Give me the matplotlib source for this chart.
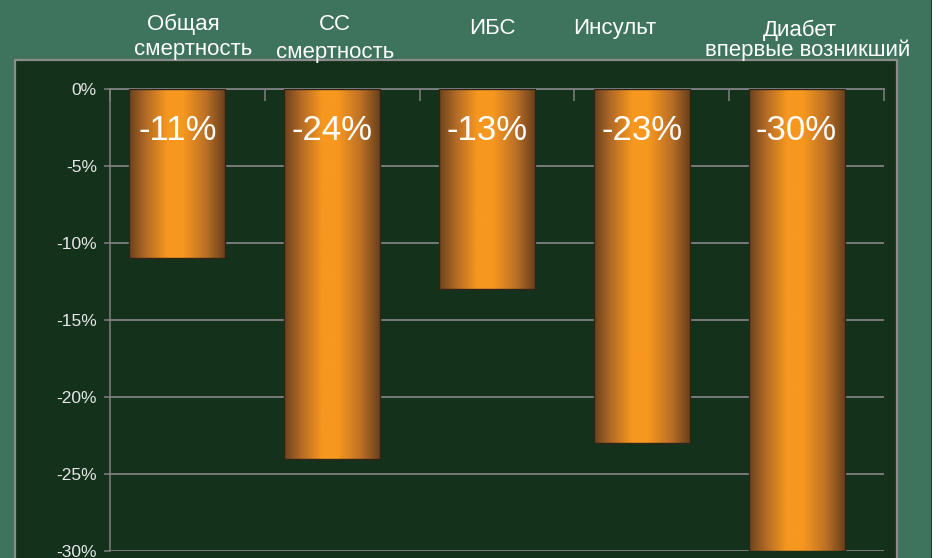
import numpy as np
import matplotlib.pyplot as plt
from matplotlib.patches import Rectangle
from matplotlib.colors import LinearSegmentedColormap

categories = ['Общая\nсмертность', 'СС\nсмертность', 'ИБС', 'Инсульт', 'Диабет\nвпервые возникший']
values = [-11, -24, -13, -23, -30]
bar_labels = ['-11%', '-24%', '-13%', '-23%', '-30%']
yticks = [0, -5, -10, -15, -20, -25, -30]
ytick_labels = ['0%', '-5%', '-10%', '-15%', '-20%', '-25%', '-30%']

# header line placement in pixels: (centre x, baseline y) for each line
label_pos = [[(183, 30), (193, 55)],
             [(335, 30), (335, 58)],
             [(492, 34)],
             [(615, 34)],
             [(800, 36), (808, 56)]]

plt.rcParams['font.family'] = ['Liberation Sans', 'DejaVu Sans']

W, H = 943, 558
BG = '#3e735d'
PANEL = '#14321b'
GRID = '#808080'

fig = plt.figure(figsize=(W / 100, H / 100), dpi=100, facecolor=BG)

# dark panel behind the chart
fig.patches.append(Rectangle((15 / W, -0.05), (897 - 15) / W, (H - 60) / H + 0.05,
                             transform=fig.transFigure, facecolor=PANEL,
                             edgecolor='#8c8c8c', linewidth=1.6, zorder=-2))
# white strip on the right edge
fig.patches.append(Rectangle((931 / W, 0), 1, 1, transform=fig.transFigure,
                             facecolor='white', edgecolor='none', zorder=-2))
fig.patches.append(Rectangle((931 / W, 0), 1.2 / W, 1, transform=fig.transFigure,
                             facecolor='#2a3a30', edgecolor='none', zorder=-2))

ax = fig.add_axes([110 / W, 1 - 551 / H, (884 - 110) / W, (551 - 89) / H])
ax.set_facecolor('none')
ax.set_zorder(2)

# bars sit a little left of the category centre, as in the original
x = np.arange(len(values))
bx = x - 0.065
bars = ax.bar(bx, values, width=0.62, color='none', edgecolor='#2e2418',
              linewidth=1.0, zorder=4)

cmap = LinearSegmentedColormap.from_list('bar', [
    (0.0, '#6c421d'), (0.18, '#b36b26'), (0.40, '#f8981f'),
    (0.56, '#f8981f'), (0.80, '#bd7126'), (1.0, '#6a401c')])
grad = np.linspace(0, 1, 256).reshape(1, -1)
for p in bars:
    ax.imshow(grad, cmap=cmap, aspect='auto', zorder=3, interpolation='bicubic',
              extent=[p.get_x(), p.get_x() + p.get_width(),
                      p.get_y() + p.get_height(), p.get_y()])

for xi, lab in zip(bx, bar_labels):
    ax.annotate(lab, xy=(xi, 0), xytext=(0, -30), textcoords='offset points',
                ha='center', va='center', color='white', fontsize=25, zorder=5)

ax.set_xlim(-0.5, len(values) - 0.5)
ax.set_ylim(-30, 0)
ax.set_yticks(yticks)
ax.set_yticklabels(ytick_labels)
ax.yaxis.grid(True, color=GRID, linewidth=1.3, zorder=1)
ax.set_axisbelow(True)

ax.xaxis.tick_top()
ax.set_xticks(np.arange(-0.5, len(values), 1.0))
ax.set_xticklabels([])
ax.tick_params(axis='x', direction='in', length=8.5, width=1.1, color=GRID)
ax.tick_params(axis='y', direction='out', length=4.5, width=1.1, color=GRID,
               labelcolor='#e6e6e6', labelsize=12.5, pad=5)

for s in ['right', 'bottom']:
    ax.spines[s].set_visible(False)
ax.spines['left'].set_color(GRID)
ax.spines['left'].set_linewidth(1.1)
ax.spines['top'].set_color(GRID)
ax.spines['top'].set_linewidth(1.3)

for cat, pos in zip(categories, label_pos):
    for line, (px, py) in zip(cat.split('\n'), pos):
        fig.text(px / W, 1 - py / H, line, ha='center', va='baseline', color='white',
                 fontsize=16)

fig.savefig('out.png', dpi=100, facecolor=BG)
